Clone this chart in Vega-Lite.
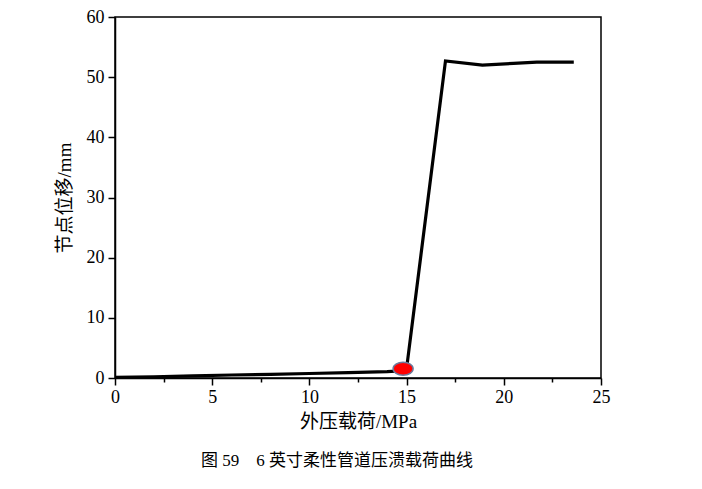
{
  "$schema": "https://vega.github.io/schema/vega-lite/v6.json",
  "width": 486,
  "height": 361,
  "autosize": {"type": "none"},
  "padding": {"left": 115, "top": 17, "right": 101, "bottom": 111},
  "background": "white",
  "config": {
    "view": {"stroke": "black", "strokeWidth": 1.5},
    "font": "Liberation Serif, Noto Sans CJK SC",
    "axis": {
      "domainColor": "black",
      "domainWidth": 1.5,
      "tickColor": "black",
      "tickWidth": 1.5,
      "grid": false,
      "labelColor": "black",
      "titleColor": "black",
      "labelFont": "Liberation Serif",
      "labelFontSize": 18,
      "labelFlush": false,
      "titleFont": "Liberation Serif, Noto Sans CJK SC",
      "titleFontSize": 19,
      "titleFontWeight": "normal"
    }
  },
  "title": {
    "text": "图\u00a059\u00a0\u00a0\u00a0\u00a06\u00a0英寸柔性管道压溃载荷曲线",
    "orient": "bottom",
    "font": "Liberation Serif, Noto Sans CJK SC",
    "fontSize": 17,
    "fontWeight": "normal",
    "color": "black",
    "offset": 22,
    "dx": -21
  },
  "datasets": {
    "curve": [
      {"p": 0, "d": 0.1},
      {"p": 2, "d": 0.2},
      {"p": 4, "d": 0.35},
      {"p": 6, "d": 0.5},
      {"p": 8, "d": 0.6},
      {"p": 10, "d": 0.75},
      {"p": 12, "d": 0.9},
      {"p": 14, "d": 1.05},
      {"p": 14.8, "d": 1.2},
      {"p": 15.0, "d": 1.6},
      {"p": 17.0, "d": 52.7},
      {"p": 18.9, "d": 52.0},
      {"p": 20.5, "d": 52.3},
      {"p": 21.7, "d": 52.5},
      {"p": 23.6, "d": 52.5}
    ],
    "marker": [{"p": 14.82, "d": 1.55}]
  },
  "layer": [
    {
      "data": {"name": "curve"},
      "mark": {"type": "line", "color": "black", "strokeWidth": 3.2, "strokeJoin": "miter"},
      "encoding": {
        "x": {
          "field": "p", "type": "quantitative",
          "scale": {"domain": [0, 25], "nice": false, "zero": false},
          "axis": {
            "title": "外压载荷/MPa",
            "values": [0, 2.5, 5, 7.5, 10, 12.5, 15, 17.5, 20, 22.5, 25],
            "labelExpr": "datum.value % 5 === 0 ? datum.label : ''",
            "tickSize": {"condition": {"test": "datum.value % 5 === 0", "value": 7}, "value": 4},
            "labelPadding": 3,
            "titlePadding": 6
          }
        },
        "y": {
          "field": "d", "type": "quantitative",
          "scale": {"domain": [0, 60], "nice": false},
          "axis": {
            "title": "节点位移/mm",
            "values": [0, 5, 10, 15, 20, 25, 30, 35, 40, 45, 50, 55, 60],
            "labelExpr": "datum.value % 10 === 0 ? datum.label : ''",
            "tickSize": {"condition": {"test": "datum.value % 10 === 0", "value": 7}, "value": 4},
            "labelPadding": 4,
            "titlePadding": 12
          }
        }
      }
    },
    {
      "data": {"name": "marker"},
      "mark": {
        "type": "point",
        "shape": "M-1,0 A1,0.65 0 1,0 1,0 A1,0.65 0 1,0 -1,0 Z",
        "size": 400,
        "filled": true,
        "fill": "#ff0000",
        "stroke": "#6b7a9c",
        "strokeWidth": 1.5,
        "opacity": 1
      },
      "encoding": {
        "x": {"field": "p", "type": "quantitative"},
        "y": {"field": "d", "type": "quantitative"}
      }
    }
  ]
}
